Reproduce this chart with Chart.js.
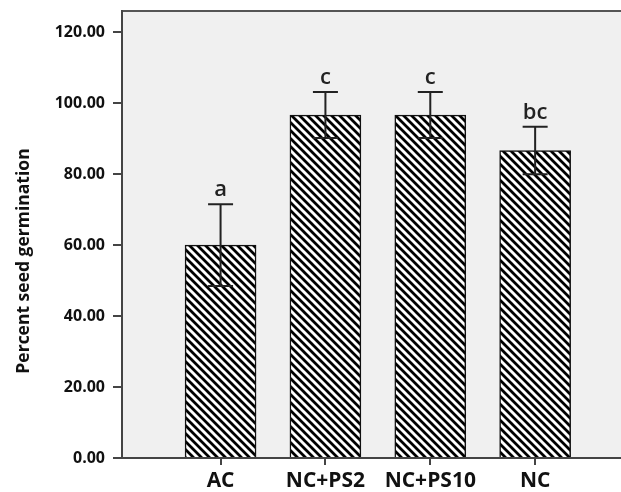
<!DOCTYPE html>
<html>
<head>
<meta charset="utf-8">
<script src="https://cdn.jsdelivr.net/npm/chart.js@4.4.1/dist/chart.umd.min.js"></script>
<style>
  html, body { margin: 0; padding: 0; background: #fff; overflow: hidden; }
  #wrap { width: 650px; height: 492px; }
</style>
</head>
<body>
<div id="wrap"><canvas id="chart"></canvas></div>
<script>
// values
const groups = ['AC', 'NC+PS2', 'NC+PS10', 'NC'];
const germination = [60.0, 96.67, 96.67, 86.67];
const errors = [11.5, 6.5, 6.5, 6.7];
const letters = ['a', 'c', 'c', 'bc'];
const yTicks = [0, 20, 40, 60, 80, 100, 120];
const yTitle = 'Percent seed germination';

const FONT = "'Open Sans', 'DejaVu Sans', sans-serif";

function makeHatch() {
    const s = 8;
    const c = document.createElement('canvas');
    c.width = s;
    c.height = s;
    const g = c.getContext('2d');
    g.fillStyle = '#fff';
    g.fillRect(0, 0, s, s);
    g.strokeStyle = '#000';
    g.lineWidth = 2.8;
    g.beginPath();
    [-s, 0, s].forEach((o) => {
        g.moveTo(o - 1, -1);
        g.lineTo(o + s + 1, s + 1);
    });
    g.stroke();
    return g.createPattern(c, 'repeat');
}

// gray plot area, top border line and the y title
const plotBg = {
    id: 'plotBg',
    beforeDraw(chart) {
        const {ctx, chartArea: a} = chart;
        ctx.save();
        ctx.fillStyle = '#f0f0f0';
        ctx.fillRect(a.left, a.top, a.right - a.left, a.bottom - a.top);
        ctx.strokeStyle = '#555';
        ctx.lineWidth = 2;
        ctx.beginPath();
        ctx.moveTo(a.left, a.top);
        ctx.lineTo(a.right, a.top);
        ctx.stroke();

        ctx.translate(24, 261);
        ctx.rotate(-Math.PI / 2);
        ctx.fillStyle = '#111';
        ctx.font = 'bold 17.5px ' + FONT;
        ctx.textAlign = 'center';
        ctx.textBaseline = 'middle';
        ctx.fillText(yTitle, 0, 0);
        ctx.restore();
    }
};

// error bars and significance letters
const errorBars = {
    id: 'errorBars',
    afterDatasetsDraw(chart) {
        const {ctx} = chart;
        const yScale = chart.scales.y;
        const meta = chart.getDatasetMeta(0);
        ctx.save();
        ctx.strokeStyle = '#222';
        ctx.lineWidth = 2;
        meta.data.forEach((bar, i) => {
            const x = bar.x;
            const top = yScale.getPixelForValue(germination[i] + errors[i]);
            const bot = yScale.getPixelForValue(germination[i] - errors[i]);
            ctx.beginPath();
            ctx.moveTo(x, top);
            ctx.lineTo(x, bot);
            ctx.moveTo(x - 12.5, top);
            ctx.lineTo(x + 12.5, top);
            ctx.moveTo(x - 12.5, bot);
            ctx.lineTo(x + 12.5, bot);
            ctx.stroke();
            ctx.fillStyle = '#222';
            ctx.font = '600 22px ' + FONT;
            ctx.textAlign = 'center';
            ctx.textBaseline = 'alphabetic';
            ctx.fillText(letters[i], x, top - 8);
        });
        ctx.restore();
    }
};

const ctx = document.getElementById('chart');
new Chart(ctx, {
    type: 'bar',
    data: {
        datasets: [{
            data: germination.map((v, i) => ({x: i + 1, y: v})),
            backgroundColor: makeHatch(),
            borderColor: '#111',
            borderWidth: 1.5,
            barThickness: 71
        }]
    },
    options: {
        responsive: true,
        maintainAspectRatio: false,
        animation: false,
        layout: {padding: {top: 11, right: 10, left: 0, bottom: 0}},
        plugins: {
            legend: {display: false},
            tooltip: {enabled: false}
        },
        scales: {
            x: {
                type: 'linear',
                offset: false,
                min: 0.06,
                max: 5,
                afterBuildTicks: (axis) => {
                    axis.ticks = groups.map((g, i) => ({value: i + 1}));
                },
                afterFit: (axis) => {
                    axis.height = 34;
                    axis.paddingLeft = 0;
                    axis.paddingRight = 0;
                },
                grid: {offset: false, drawOnChartArea: false, drawTicks: true, tickLength: 7, color: '#444', lineWidth: 2},
                border: {display: true, color: '#444', width: 2},
                ticks: {
                    padding: 3,
                    color: '#111',
                    font: {family: FONT, size: 21, weight: 'bold'},
                    callback: (v) => groups[v - 1] || ''
                }
            },
            y: {
                min: 0,
                max: 126,
                afterBuildTicks: (axis) => {
                    axis.ticks = yTicks.map((v) => ({value: v}));
                },
                afterFit: (axis) => {
                    axis.width = 122;
                    axis.paddingTop = 0;
                    axis.paddingBottom = 0;
                },
                grid: {drawOnChartArea: false, drawTicks: true, tickLength: 9, color: '#444', lineWidth: 2},
                border: {display: true, color: '#444', width: 2},
                ticks: {
                    padding: 8,
                    color: '#111',
                    font: {family: FONT, size: 16, weight: 'bold'},
                    callback: (v) => v.toFixed(2)
                }
            }
        }
    },
    plugins: [plotBg, errorBars]
});
</script>
</body>
</html>
